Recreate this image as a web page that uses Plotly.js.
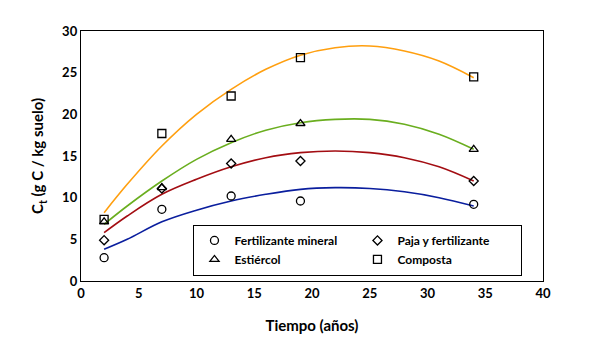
<!DOCTYPE html>
<html>
<head>
<meta charset="utf-8">
<script src="https://cdn.plot.ly/plotly-3.0.1.min.js"></script>
<style>html,body{margin:0;padding:0;background:#fff;}#chart{width:591px;height:354px;}</style>
</head>
<body>
<div id="chart"></div>
<script>
// Measured points
const years = [2, 7, 13, 19, 34];
const mineral = [2.8, 8.6, 10.2, 9.6, 9.2];
const paja = [4.9, 11.1, 14.1, 14.4, 12.0];
const estiercol = [7.1, 11.2, 17.0, 18.9, 15.8];
const composta = [7.4, 17.7, 22.2, 26.8, 24.5];

// Trend curves
const curveX = [2, 4, 7, 10, 13, 16, 19, 22, 25, 28, 31, 34];
const curveMineral = [3.8, 5.0, 7.1, 8.5, 9.6, 10.4, 11.0, 11.2, 11.1, 10.7, 10.0, 9.0];
const curvePaja = [5.8, 7.8, 10.4, 12.2, 13.7, 14.8, 15.4, 15.6, 15.4, 14.8, 13.7, 12.0];
const curveEstiercol = [6.8, 9.0, 12.0, 14.6, 16.6, 18.1, 19.0, 19.4, 19.4, 18.8, 17.6, 15.8];
const curveComposta = [8.2, 11.6, 16.2, 20.0, 23.0, 25.4, 27.1, 28.0, 28.2, 27.6, 26.4, 24.4];

const names = ['Fertilizante mineral', 'Paja y fertilizante', 'Estiércol', 'Composta'];
const symbols = ['circle-open', 'diamond-open', 'triangle-up-open', 'square-open'];
const sizes = [8, 7, 8, 8];
const lineColors = ['#0A1E9E', '#A30D12', '#6AAE1F', '#FF9F0F'];

const pointSeries = [mineral, paja, estiercol, composta];
const curveSeries = [curveMineral, curvePaja, curveEstiercol, curveComposta];

const traces = [];
curveSeries.forEach((c, i) => {
  traces.push({x: curveX, y: c, mode: 'lines', line: {color: lineColors[i], width: 1.6, shape: 'spline'},
    showlegend: false, hoverinfo: 'skip'});
});
pointSeries.forEach((s, i) => {
  traces.push({x: years, y: s, mode: 'markers', name: names[i],
    marker: {symbol: symbols[i], color: '#000', size: sizes[i], line: {width: 1.3, color: '#000'}}});
});

const fnt = 'Lato, "Open Sans", sans-serif';
const layout = {
  width: 591, height: 354,
  margin: {l: 81, r: 48, t: 31, b: 73},
  paper_bgcolor: '#fff', plot_bgcolor: '#fff',
  font: {family: fnt, color: '#000', size: 12},
  xaxis: {range: [0, 40], dtick: 5, tick0: 0, showgrid: false, zeroline: false,
    showline: true, linecolor: '#000', linewidth: 1.2, mirror: true, ticks: '',
    tickfont: {family: fnt, size: 13, weight: 'bold'},
    title: {text: 'Tiempo (años)', font: {family: fnt, size: 15, weight: 'bold'}, standoff: 20}},
  yaxis: {range: [0, 30], dtick: 5, tick0: 0, showgrid: false, zeroline: false,
    showline: true, linecolor: '#000', linewidth: 1.2, mirror: true, ticks: '',
    tickfont: {family: fnt, size: 13, weight: 'bold'},
    title: {text: 'C<sub>t</sub> (g C / kg suelo)', font: {family: fnt, size: 15, weight: 'bold'}, standoff: 14}},
  legend: {orientation: 'h', x: 0.243, y: 0.225, xanchor: 'left', yanchor: 'top',
    bgcolor: '#fff', bordercolor: '#000', borderwidth: 1.2,
    entrywidth: 118, entrywidthmode: 'pixels', itemwidth: 30,
    tracegroupgap: 0,
    font: {family: fnt, size: 12, weight: 'bold'}},
  showlegend: true
};

Plotly.newPlot('chart', traces, layout, {displayModeBar: false, staticPlot: true});
</script>
</body>
</html>
